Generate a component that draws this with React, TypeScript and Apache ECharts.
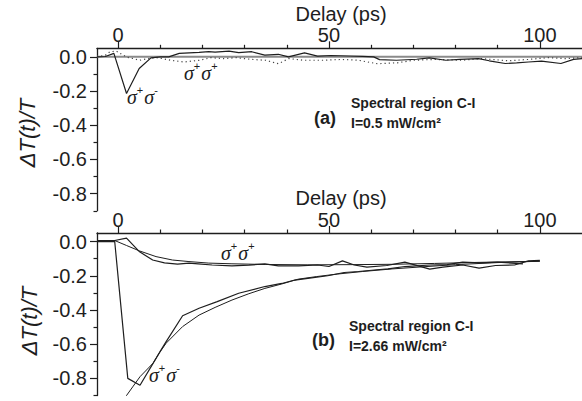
import React, { useEffect, useRef } from "react";
import * as echarts from "echarts";

// ---- axis ticks ----
const xMajorTicks = [0, 50, 100];
const xMinorTicks = [10, 20, 30, 40, 60, 70, 80, 90];
const yMajorTicks = [0, -0.2, -0.4, -0.6, -0.8];
const yMinorTicks = [-0.1, -0.3, -0.5, -0.7, -0.9];

// ---- panel (a): I = 0.5 mW/cm2 ----
const zeroDelay = [-5, 110];
const zeroSignal = [0, 0];

const aSolidDelay = [-5, -3, -1, 2, 5, 7.8, 10, 12, 14.5, 19.2, 21.5, 23, 26.3, 28.6, 31.7, 34.8, 38, 40.4, 44.2, 47.3, 50.5, 55, 58, 60.6, 62, 66, 70.8, 73.8, 77.7, 81, 85.5, 88, 91.8, 94.5, 97.3, 100.4, 105, 108, 110];
const aSolidSignal = [0, 0.002, 0.02, -0.214, -0.068, -0.006, 0, 0, 0.02, 0.026, 0.03, 0.028, 0.033, 0.025, 0.03, 0.01, 0.015, 0.0, 0.023, 0.004, 0.008, 0.005, 0.003, 0, -0.016, -0.02, -0.014, -0.006, -0.02, -0.015, -0.01, -0.023, -0.039, -0.035, -0.03, -0.025, -0.039, -0.015, -0.01];

const aDottedDelay = [-5, -3, -1.9, -0.4, 1.2, 2.5, 3.6, 5.1, 7.1, 9, 10.5, 12.5, 15.6, 19.3, 22, 25, 28, 31.7, 35, 38, 40.5, 44, 48.8, 53, 57, 61.4, 66.2, 70, 75, 81.7, 86, 92.6, 97.2, 102, 106, 110];
const aDottedSignal = [0, 0.01, 0.03, 0.033, 0.01, -0.005, -0.01, -0.02, -0.01, -0.005, -0.01, -0.02, -0.03, -0.02, -0.005, -0.01, -0.005, -0.015, -0.02, -0.04, -0.01, -0.02, -0.02, -0.015, -0.02, -0.04, -0.035, -0.02, -0.015, -0.02, -0.01, -0.023, -0.015, -0.005, -0.01, -0.005];

// ---- panel (b): I = 2.66 mW/cm2 ----
const bParDelay = [-5, -0.8, 2, 5.1, 8.2, 11, 14.1, 16.8, 19, 22.3, 27, 31, 34.8, 38, 42.8, 47.3, 50, 53.2, 56, 59, 63.7, 68, 73.9, 77, 81.7, 85.6, 89.5, 94, 97.3, 100];
const bParSignal = [0.006, 0.006, 0.02, -0.06, -0.108, -0.125, -0.132, -0.126, -0.13, -0.137, -0.142, -0.138, -0.13, -0.142, -0.142, -0.137, -0.146, -0.113, -0.137, -0.15, -0.14, -0.12, -0.161, -0.15, -0.137, -0.155, -0.14, -0.137, -0.113, -0.11];

const bParFitDelay = [-0.8, 2, 5.1, 9, 12.9, 16.8, 21.5, 27, 35, 45, 55, 65, 75, 85, 100];
const bParFitSignal = [0.006, -0.023, -0.055, -0.088, -0.108, -0.117, -0.126, -0.13, -0.134, -0.136, -0.135, -0.133, -0.128, -0.122, -0.115];

const bCrossDelay = [-5, -0.8, 2.3, 5.2, 10.2, 11.4, 15.3, 19.2, 23.5, 28.6, 34.8, 38.8, 41.9, 45, 49.7, 53.6, 57, 61.4, 64, 68, 74, 78, 81.7, 86, 90, 96];
const bCrossSignal = [0, 0, -0.8, -0.84, -0.633, -0.585, -0.434, -0.39, -0.351, -0.302, -0.263, -0.245, -0.225, -0.215, -0.2, -0.181, -0.175, -0.165, -0.16, -0.146, -0.137, -0.135, -0.12, -0.125, -0.12, -0.13];

const bCrossFitDelay = [1.5, 2, 3.6, 5.2, 8.3, 9.8, 11.4, 15.3, 19.2, 23, 27, 31, 34.8, 38.8, 42.7, 47, 52, 58, 65, 72, 80, 90, 100];
const bCrossFitSignal = [-0.95, -0.9, -0.845, -0.79, -0.711, -0.65, -0.594, -0.497, -0.43, -0.385, -0.342, -0.305, -0.274, -0.248, -0.22, -0.205, -0.19, -0.175, -0.16, -0.148, -0.135, -0.123, -0.115];

const zip = (xs: number[], ys: number[]) => xs.map((x, i) => [x, ys[i]]);

const SANS = "Liberation Sans, Arial, sans-serif";
const SERIF = "Liberation Serif, Times New Roman, serif";
const INK = "#1e1e1e";

const GRID_TOPS = [48.3, 233];
const GRID_H = 162.5;

function buildOption() {
  const grid = GRID_TOPS.map((t) => ({ left: 97, top: t, right: -5.6, height: GRID_H }));
  const xAxis: any[] = [];
  const yAxis: any[] = [];
  [0, 1].forEach((g) => {
    xAxis.push({
      type: "value", gridIndex: g, position: "top", min: -5, max: 110,
      axisLine: { show: true, onZero: false, lineStyle: { color: INK, width: 1.3 } },
      axisTick: { show: true, customValues: xMajorTicks, length: 7, inside: false, lineStyle: { color: INK, width: 1.2 } },
      axisLabel: { show: true, customValues: xMajorTicks, fontSize: 20, fontFamily: SANS, color: INK, margin: 4, lineHeight: 18 },
      splitLine: { show: false },
    });
    xAxis.push({
      type: "value", gridIndex: g, position: "top", min: -5, max: 110,
      axisLine: { show: false, onZero: false },
      axisTick: { show: true, customValues: xMinorTicks, length: 3.5, inside: false, lineStyle: { color: INK, width: 1.2 } },
      axisLabel: { show: false },
      splitLine: { show: false },
    });
    yAxis.push({
      type: "value", gridIndex: g, position: "left", min: -0.9, max: 0.05,
      axisLine: { show: true, onZero: false, lineStyle: { color: INK, width: 1.3 } },
      axisTick: { show: true, customValues: yMajorTicks, length: 7, inside: false, lineStyle: { color: INK, width: 1.2 } },
      axisLabel: { show: true, customValues: yMajorTicks, fontSize: 20, fontFamily: SANS, color: INK, margin: 10, formatter: (v: number) => v.toFixed(1) },
      splitLine: { show: false },
    });
    yAxis.push({
      type: "value", gridIndex: g, position: "left", min: -0.9, max: 0.05,
      axisLine: { show: false, onZero: false },
      axisTick: { show: true, customValues: yMinorTicks, length: 3.5, inside: false, lineStyle: { color: INK, width: 1.2 } },
      axisLabel: { show: false },
      splitLine: { show: false },
    });
  });

  const line = (g: number, name: string, data: number[][], lineStyle: any, z = 3) => ({
    type: "line", name, xAxisIndex: g * 2, yAxisIndex: g * 2, data, symbol: "none",
    lineStyle, z, silent: true, clip: true,
  });

  const series = [
    line(0, "zero", zip(zeroDelay, zeroSignal), { color: "#8a8a8a", width: 2 }, 1),
    line(0, "σ+σ+ (a)", zip(aDottedDelay, aDottedSignal), { color: "#444", width: 1.2, type: [1.2, 3] }),
    line(0, "σ+σ- (a)", zip(aSolidDelay, aSolidSignal), { color: INK, width: 1.2 }),
    line(1, "σ+σ+ (b)", zip(bParDelay, bParSignal), { color: INK, width: 1.2 }),
    line(1, "σ+σ+ fit (b)", zip(bParFitDelay, bParFitSignal), { color: INK, width: 1 }),
    line(1, "σ+σ- (b)", zip(bCrossDelay, bCrossSignal), { color: INK, width: 1.2 }),
    line(1, "σ+σ- fit (b)", zip(bCrossFitDelay, bCrossFitSignal), { color: INK, width: 1 }),
  ];

  const txt = (x: number, y: number, text: string, opts: any = {}) => ({
    type: "text", x, y, silent: true,
    style: { text, fill: INK, fontFamily: SANS, fontSize: 20, align: "left", verticalAlign: "middle", ...opts },
  });

  const sigma = (x: number, y: number, sign: string) => ({
    type: "text", x, y, silent: true,
    style: {
      text: `{s|σ}{p|+}{s|σ}{p|${sign}}`,
      verticalAlign: "top", align: "left",
      rich: {
        s: { fontFamily: SERIF, fontStyle: "italic", fontSize: 20, lineHeight: 26, fill: INK },
        p: { fontFamily: SANS, fontSize: 11, lineHeight: 11, verticalAlign: "top", fill: INK, padding: [0, 1, 0, 0] },
      },
    },
  });

  const graphic = [
    txt(341, 14, "Delay (ps)", { align: "center", lineHeight: 20 }),
    txt(341, 198, "Delay (ps)", { align: "center", lineHeight: 20 }),
    { type: "text", x: 27, y: 133, rotation: Math.PI / 2, silent: true,
      style: { text: "ΔT(t)/T", fill: INK, fontFamily: SANS, fontStyle: "italic", fontSize: 22, align: "center", verticalAlign: "middle" } },
    { type: "text", x: 29, y: 321, rotation: Math.PI / 2, silent: true,
      style: { text: "ΔT(t)/T", fill: INK, fontFamily: SANS, fontStyle: "italic", fontSize: 22, align: "center", verticalAlign: "middle" } },
    txt(314, 117.5, "(a)", { fontWeight: "bold", fontSize: 18 }),
    txt(351, 102.5, "Spectral region C-I", { fontWeight: "bold", fontSize: 14 }),
    txt(351, 122.5, "I=0.5 mW/cm²", { fontWeight: "bold", fontSize: 14 }),
    txt(312, 340, "(b)", { fontWeight: "bold", fontSize: 18 }),
    txt(349, 326, "Spectral region C-I", { fontWeight: "bold", fontSize: 14 }),
    txt(349, 346, "I=2.66 mW/cm²", { fontWeight: "bold", fontSize: 14 }),
    sigma(127, 84, "-"),
    sigma(184, 60, "+"),
    sigma(221, 240, "+"),
    sigma(149, 362, "-"),
  ];

  return { animation: false, backgroundColor: "#ffffff", grid, xAxis, yAxis, series, graphic };
}

export default function App() {
  const ref = useRef<HTMLDivElement>(null);
  useEffect(() => {
    document.body.style.margin = "0";
    const chart = echarts.init(ref.current!, null, { renderer: "svg" });
    chart.setOption(buildOption() as any);
    return () => chart.dispose();
  }, []);
  return <div ref={ref} style={{ position: "fixed", left: 0, top: 0, width: 582, height: 401 }} />;
}
